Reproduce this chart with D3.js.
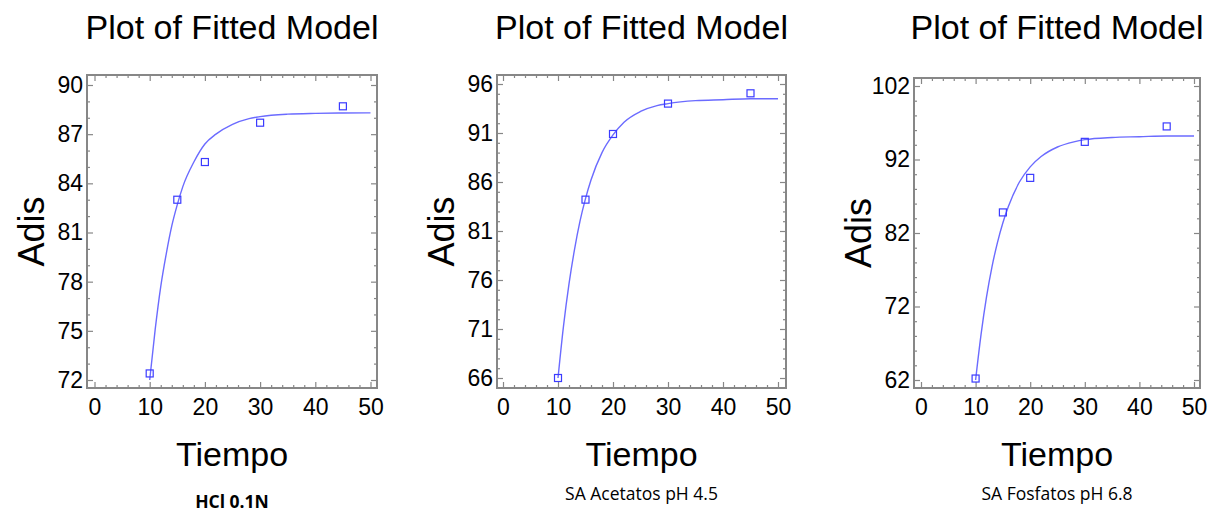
<!DOCTYPE html>
<html lang="en">
<head>
<meta charset="UTF-8">
<script src="https://d3js.org/d3.v7.min.js"></script>
<style>
    body{ margin:0; background:#fff; }
    svg text{ font-family: Arial, "Liberation Sans", sans-serif; fill:#000; }
    .caption{ font-family: "Open Sans", "Noto Sans", sans-serif; }
</style>
<title>Plot of Fitted Model</title>
</head>
<body>
<div class="canvas"></div>
<script>
    // observed points
    const tiempo = [10, 15, 20, 30, 45];
    const adisHCl = [72.4, 83.0, 85.3, 87.7, 88.7];
    const adisAcetatos = [66.0, 84.2, 90.9, 94.0, 95.05];
    const adisFosfatos = [62.2, 84.8, 89.5, 94.4, 96.5];

    // fitted curve
    const fitX = [10, 11, 12, 13, 14, 15, 16, 18, 20, 22, 25, 28, 30, 35, 40, 45, 50];
    const fitHCl = [72.0, 75.1, 77.7, 79.7, 81.4, 82.7, 83.8, 85.3, 86.4, 87.0, 87.6, 87.95, 88.07, 88.22, 88.27, 88.29, 88.3];
    const fitAcetatos = [66.0, 71.3, 75.6, 79.1, 82.0, 84.3, 86.2, 89.0, 90.8, 92.1, 93.2, 93.8, 94.0, 94.3, 94.4, 94.5, 94.5];
    const fitFosfatos = [62.0, 68.2, 73.3, 77.4, 80.7, 83.4, 85.6, 88.9, 91.0, 92.4, 93.7, 94.4, 94.7, 95.0, 95.1, 95.2, 95.2];

    // tick labels
    const xTicks = [0, 10, 20, 30, 40, 50];
    const yTicksHCl = [72, 75, 78, 81, 84, 87, 90];
    const yTicksAcetatos = [66, 71, 76, 81, 86, 91, 96];
    const yTicksFosfatos = [62, 72, 82, 92, 102];

    const captions = ['HCl 0.1N', 'SA Acetatos pH 4.5', 'SA Fosfatos pH 6.8'];

    const width = 1217, height = 516;
    const svg = d3.select('.canvas').append('svg')
                  .attr('width', width).attr('height', height);

    const panels = [
        {pts: adisHCl, fit: fitHCl, yTicks: yTicksHCl, yMinor: 1,
         box: [87, 377, 75, 388], xr: [94.5, 370.5], yr: [380, 85],
         cap: captions[0], capY: 508, capBold: true},
        {pts: adisAcetatos, fit: fitAcetatos, yTicks: yTicksAcetatos, yMinor: 1,
         box: [497, 786, 75, 388], xr: [503, 778], yr: [378, 84],
         cap: captions[1], capY: 500, capBold: false},
        {pts: adisFosfatos, fit: fitFosfatos, yTicks: yTicksFosfatos, yMinor: 2,
         box: [914, 1200, 78, 388], xr: [921, 1194], yr: [380, 86],
         cap: captions[2], capY: 500, capBold: false}
    ];

    const lineColor = '#6b6bff';
    const pointColor = '#3b3bff';
    const frameColor = '#878787';

    panels.forEach(p => {
        const [bx0, bx1, by0, by1] = p.box;
        const cx = (bx0 + bx1) / 2;
        const g = svg.append('g');

        const x = d3.scaleLinear().domain([0, 50]).range(p.xr);
        const yMin = d3.min(p.yTicks), yMax = d3.max(p.yTicks);
        const y = d3.scaleLinear().domain([yMin, yMax]).range(p.yr);

        const xMinor = d3.range(0, 51, 2).filter(v => v % 10 !== 0);
        const yMinorVals = d3.range(yMin, yMax + 0.001, p.yMinor).filter(v => !p.yTicks.includes(v));

        // ticks on all four sides, pointing inward
        const sides = [
            {ax: () => d3.axisBottom(x), t: `translate(0,${by1})`, major: xTicks, minor: xMinor, label: true, pad: 11},
            {ax: () => d3.axisTop(x), t: `translate(0,${by0})`, major: xTicks, minor: xMinor, label: false, pad: 0},
            {ax: () => d3.axisLeft(y), t: `translate(${bx0},0)`, major: p.yTicks, minor: yMinorVals, label: true, pad: 4},
            {ax: () => d3.axisRight(y), t: `translate(${bx1},0)`, major: p.yTicks, minor: yMinorVals, label: false, pad: 0}
        ];
        sides.forEach(s => {
            const gm = g.append('g').attr('transform', s.t)
                        .call(s.ax().tickValues(s.minor).tickSize(-3).tickFormat(''));
            gm.select('.domain').remove();
            gm.selectAll('line').attr('stroke', frameColor).attr('stroke-width', 1.2);

            const ga = g.append('g').attr('transform', s.t)
                        .call(s.ax().tickValues(s.major).tickSizeInner(-6).tickSizeOuter(0)
                               .tickPadding(s.pad)
                               .tickFormat(s.label ? d3.format('d') : ''));
            ga.select('.domain').remove();
            ga.selectAll('line').attr('stroke', frameColor).attr('stroke-width', 1.2);
            ga.selectAll('text').style('font-size', '23px').attr('fill', '#111');
        });

        // frame
        g.append('rect')
         .attr('x', bx0).attr('y', by0)
         .attr('width', bx1 - bx0).attr('height', by1 - by0)
         .attr('fill', 'none').attr('stroke', frameColor).attr('stroke-width', 2);

        // fitted curve
        const fitData = fitX.map((v, i) => ({x: v, y: p.fit[i]}));
        const line = d3.line().x(d => x(d.x)).y(d => y(d.y)).curve(d3.curveMonotoneX);
        g.append('path')
         .attr('d', line(fitData))
         .attr('fill', 'none').attr('stroke', lineColor).attr('stroke-width', 1.4);

        // observed points as open squares
        const ptData = tiempo.map((v, i) => ({x: v, y: p.pts[i]}));
        g.selectAll('rect.pt').data(ptData).enter()
         .append('rect').attr('class', 'pt')
         .attr('x', d => x(d.x) - 3.5).attr('y', d => y(d.y) - 3.5)
         .attr('width', 7).attr('height', 7)
         .attr('fill', 'none').attr('stroke', pointColor).attr('stroke-width', 1.2);

        // texts
        g.append('text').attr('x', cx).attr('y', 39)
         .attr('text-anchor', 'middle').style('font-size', '34px')
         .text('Plot of Fitted Model');
        g.append('text').attr('x', cx).attr('y', 466)
         .attr('text-anchor', 'middle').style('font-size', '34px')
         .text('Tiempo');
        g.append('text')
         .attr('transform', `translate(${bx0 - 43},${(by0 + by1) / 2}) rotate(-90)`)
         .attr('text-anchor', 'middle').style('font-size', '36px')
         .text('Adis');
        g.append('text').attr('class', 'caption')
         .attr('x', cx).attr('y', p.capY)
         .attr('text-anchor', 'middle').style('font-size', '17.5px')
         .style('font-weight', p.capBold ? 'bold' : 'normal')
         .text(p.cap);
    });
</script>
</body>
</html>
